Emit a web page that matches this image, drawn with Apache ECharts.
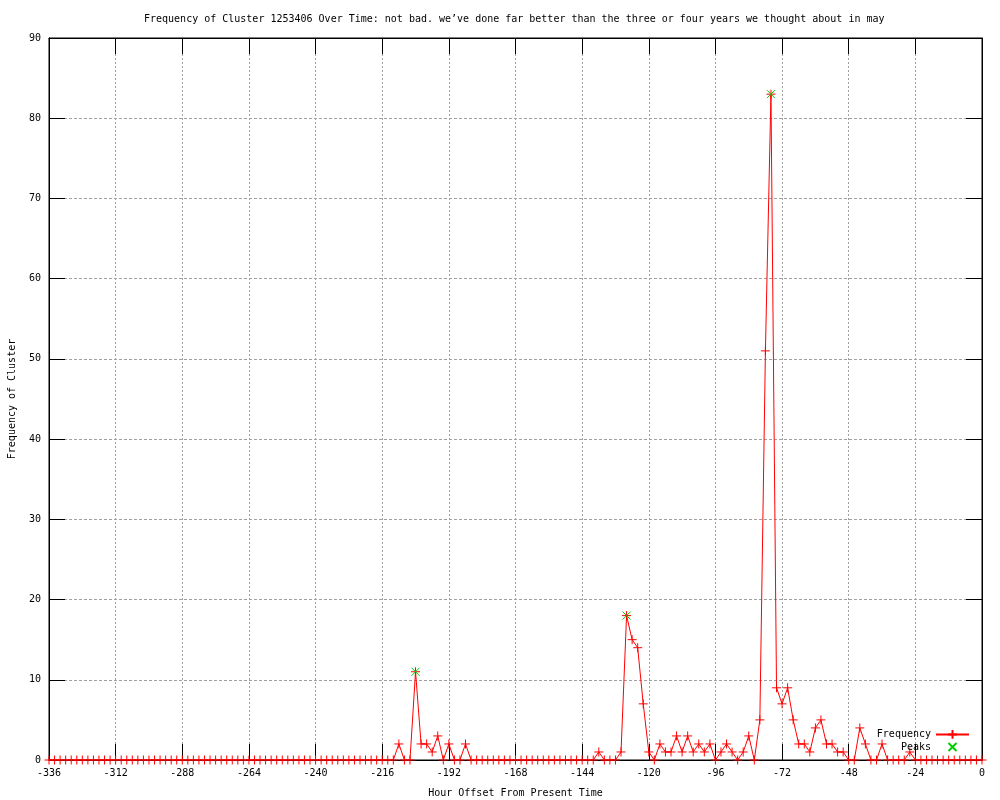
<!DOCTYPE html>
<html>
<head>
<meta charset="utf-8">
<script src="https://cdn.jsdelivr.net/npm/echarts@6/dist/echarts.min.js"></script>
<style>html,body{margin:0;padding:0;background:#fff}#c{width:1000px;height:800px}</style>
</head>
<body>
<div id="c"></div>
<script>
const hours = [
  -336,-334,-332,-330,-328,-326,-324,-322,-320,-318,-316,-314,
  -312,-310,-308,-306,-304,-302,-300,-298,-296,-294,-292,-290,
  -288,-286,-284,-282,-280,-278,-276,-274,-272,-270,-268,-266,
  -264,-262,-260,-258,-256,-254,-252,-250,-248,-246,-244,-242,
  -240,-238,-236,-234,-232,-230,-228,-226,-224,-222,-220,-218,
  -216,-214,-212,-210,-208,-206,-204,-202,-200,-198,-196,-194,
  -192,-190,-188,-186,-184,-182,-180,-178,-176,-174,-172,-170,
  -168,-166,-164,-162,-160,-158,-156,-154,-152,-150,-148,-146,
  -144,-142,-140,-138,-136,-134,-132,-130,-128,-126,-124,-122,
  -120,-118,-116,-114,-112,-110,-108,-106,-104,-102,-100,-98,
  -96,-94,-92,-90,-88,-86,-84,-82,-80,-78,-76,-74,
  -72,-70,-68,-66,-64,-62,-60,-58,-56,-54,-52,-50,
  -48,-46,-44,-42,-40,-38,-36,-34,-32,-30,-28,-26,
  -24,-22,-20,-18,-16,-14,-12,-10,-8,-6,-4,-2,
  0
];
const frequency = [
  0,0,0,0,0,0,0,0,0,0,0,0,
  0,0,0,0,0,0,0,0,0,0,0,0,
  0,0,0,0,0,0,0,0,0,0,0,0,
  0,0,0,0,0,0,0,0,0,0,0,0,
  0,0,0,0,0,0,0,0,0,0,0,0,
  0,0,0,2,0,0,11,2,2,1,3,0,
  2,0,0,2,0,0,0,0,0,0,0,0,
  0,0,0,0,0,0,0,0,0,0,0,0,
  0,0,0,1,0,0,0,1,18,15,14,7,
  1,0,2,1,1,3,1,3,1,2,1,2,
  0,1,2,1,0,1,3,0,5,51,83,9,
  7,9,5,2,2,1,4,5,2,2,1,1,
  0,0,4,2,0,0,2,0,0,0,0,1,
  0,0,0,0,0,0,0,0,0,0,0,0,
  0
];
const peakHours = [-204, -128, -76];
const peakValues = [11, 18, 83];
const titleText = "Frequency of Cluster 1253406 Over Time: not bad. we\u2019ve done far better than the three or four years we thought about in may";

const mono = "'DejaVu Sans Mono', 'Liberation Mono', monospace";
const chart = echarts.init(document.getElementById('c'), null, {renderer: 'canvas'});
const tickIn = {show: true, inside: true, length: 16, lineStyle: {color: '#000', width: 1}};
const axLine = {show: true, onZero: false, lineStyle: {color: '#000', width: 1}};

const option = {
  animation: false,
  backgroundColor: '#fff',
  title: {
    text: titleText, left: 144, top: 14, padding: 0,
    textStyle: {fontFamily: mono, fontSize: 10, fontWeight: 'normal', color: '#000'}
  },
  grid: {left: 49, right: 18, top: 38, bottom: 40, show: true, borderColor: '#000', borderWidth: 1,
         containLabel: false, outerBoundsMode: 'none'},
  legend: [
    {data: ['Frequency'], orient: 'vertical', align: 'right', right: 30, top: 729, padding: 0,
     itemWidth: 33, itemHeight: 11,
     textStyle: {fontFamily: mono, fontSize: 10, color: '#000'}},
    {data: ['Peaks'], orient: 'vertical', align: 'right', right: 30, top: 742, padding: 0,
     itemWidth: 33, itemHeight: 10,
     textStyle: {fontFamily: mono, fontSize: 10, color: '#000'}}
  ],
  xAxis: [
    {type: 'value', min: -336, max: 0, interval: 24, position: 'bottom',
     name: 'Hour Offset From Present Time', nameLocation: 'middle', nameGap: 28,
     nameTextStyle: {fontFamily: mono, fontSize: 10, color: '#000'},
     axisLine: axLine, axisTick: tickIn,
     axisLabel: {fontFamily: mono, fontSize: 10, color: '#000', margin: 8},
     splitLine: {show: true, lineStyle: {color: '#a0a0a0', type: [2, 2], width: 1}}},
    {type: 'value', min: -336, max: 0, interval: 24, position: 'top',
     axisLine: axLine, axisTick: tickIn,
     axisLabel: {show: false}, splitLine: {show: false}}
  ],
  yAxis: [
    {type: 'value', min: 0, max: 90, interval: 10, position: 'left',
     name: 'Frequency of Cluster', nameLocation: 'middle', nameGap: 32, nameRotate: 90,
     nameTextStyle: {fontFamily: mono, fontSize: 10, color: '#000'},
     axisLine: axLine, axisTick: tickIn,
     axisLabel: {fontFamily: mono, fontSize: 10, color: '#000', margin: 8},
     splitLine: {show: true, lineStyle: {color: '#a0a0a0', type: [3, 2], width: 1}}},
    {type: 'value', min: 0, max: 90, interval: 10, position: 'right',
     axisLine: axLine, axisTick: tickIn,
     axisLabel: {show: false}, splitLine: {show: false}}
  ],
  series: [
    {name: 'Frequency', type: 'line', xAxisIndex: 0, yAxisIndex: 0,
     data: hours.map((h, i) => [h, frequency[i]]),
     symbol: 'path://M5,0L5,10M0,5L10,5', symbolSize: 9, showSymbol: true, showAllSymbol: true,
     color: '#ff0000',
     lineStyle: {color: '#ff0000', width: 1},
     itemStyle: {color: '#ff0000', borderColor: '#ff0000', borderWidth: 1},
     emphasis: {disabled: true}, z: 2},
    {name: 'Peaks', type: 'line', xAxisIndex: 0, yAxisIndex: 0,
     data: peakHours.map((h, i) => [h, peakValues[i]]),
     symbol: 'path://M0,0L10,10M10,0L0,10', symbolSize: 8, showSymbol: true,
     color: '#00cc00',
     lineStyle: {color: '#00cc00', width: 1, opacity: 0},
     itemStyle: {color: '#00cc00', borderColor: '#00cc00', borderWidth: 1},
     emphasis: {disabled: true}, z: 3}
  ]
};
chart.setOption(option);
</script>
</body>
</html>
